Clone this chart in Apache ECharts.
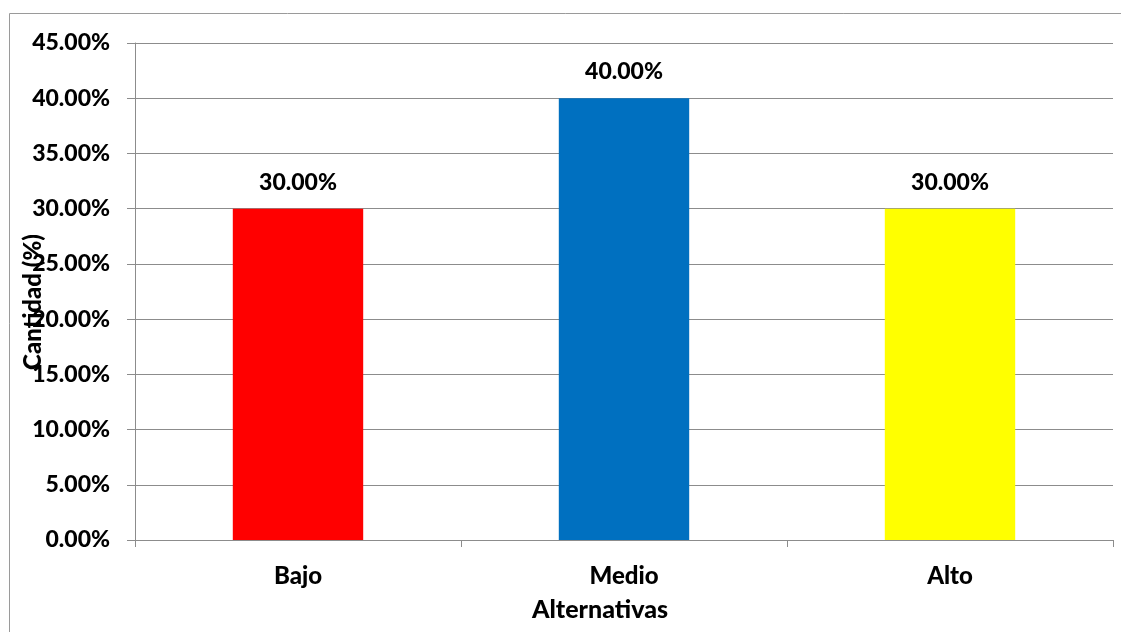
<!DOCTYPE html>
<html>
<head>
<meta charset="utf-8">
<script src="https://cdn.jsdelivr.net/npm/echarts@6/dist/echarts.min.js"></script>
<style>
  html, body { margin: 0; padding: 0; background: #fff; }
  #chart { width: 1121px; height: 632px; }
</style>
</head>
<body>
<div id="chart"></div>
<script>
// Distribución por nivel (porcentaje)
const categories = ['Bajo', 'Medio', 'Alto'];
const values = [30, 40, 30];
const barColors = ['#FF0000', '#0070C0', '#FFFF00'];
const yTicks = { min: 0, max: 45, interval: 5 };

const FONT = 'Lato, "Open Sans", sans-serif';
const chart = echarts.init(document.getElementById('chart'), null, { renderer: 'canvas' });

chart.setOption({
  animation: false,
  backgroundColor: '#ffffff',
  grid: { left: 135, right: 8, top: 43, bottom: 92, containLabel: false },
  xAxis: {
    type: 'category',
    data: categories,
    axisLine: { lineStyle: { color: '#8c8c8c', width: 1 } },
    axisTick: { show: true, length: 7, alignWithLabel: false, lineStyle: { color: '#8c8c8c' } },
    axisLabel: { margin: 24, color: '#000', fontFamily: FONT, fontWeight: 900, fontSize: 24 }
  },
  yAxis: {
    type: 'value',
    min: yTicks.min,
    max: yTicks.max,
    interval: yTicks.interval,
    axisLine: { show: true, lineStyle: { color: '#8c8c8c', width: 1 } },
    axisTick: { show: true, length: 8, lineStyle: { color: '#8c8c8c' } },
    splitLine: { show: true, lineStyle: { color: '#8c8c8c', width: 1 } },
    axisLabel: {
      margin: 25, color: '#000', fontFamily: FONT, fontWeight: 900, fontSize: 23,
      formatter: v => v.toFixed(2) + '%'
    }
  },
  series: [{
    type: 'bar',
    barWidth: '40%',
    data: values.map((v, i) => ({ value: v, itemStyle: { color: barColors[i] } })),
    label: {
      show: true,
      position: 'top',
      distance: 15,
      color: '#000',
      fontFamily: FONT,
      fontWeight: 900,
      fontSize: 23,
      formatter: p => p.value.toFixed(2) + '%'
    }
  }],
  graphic: [
    {
      type: 'rect',
      shape: { x: 9.5, y: 13.5, width: 1200, height: 700 },
      style: { fill: 'none', stroke: '#9a9a9a', lineWidth: 1 },
      silent: true, z: -1
    },
    {
      type: 'text',
      x: 33, y: 302,
      rotation: Math.PI / 2,
      style: {
        text: 'Cantidad (%)', fill: '#000', font: '900 24px ' + FONT,
        textAlign: 'center', textVerticalAlign: 'middle'
      }
    },
    {
      type: 'text',
      x: 600, y: 610,
      style: {
        text: 'Alternativas', fill: '#000', font: '900 25px ' + FONT,
        textAlign: 'center', textVerticalAlign: 'middle'
      }
    }
  ]
});
</script>
</body>
</html>
